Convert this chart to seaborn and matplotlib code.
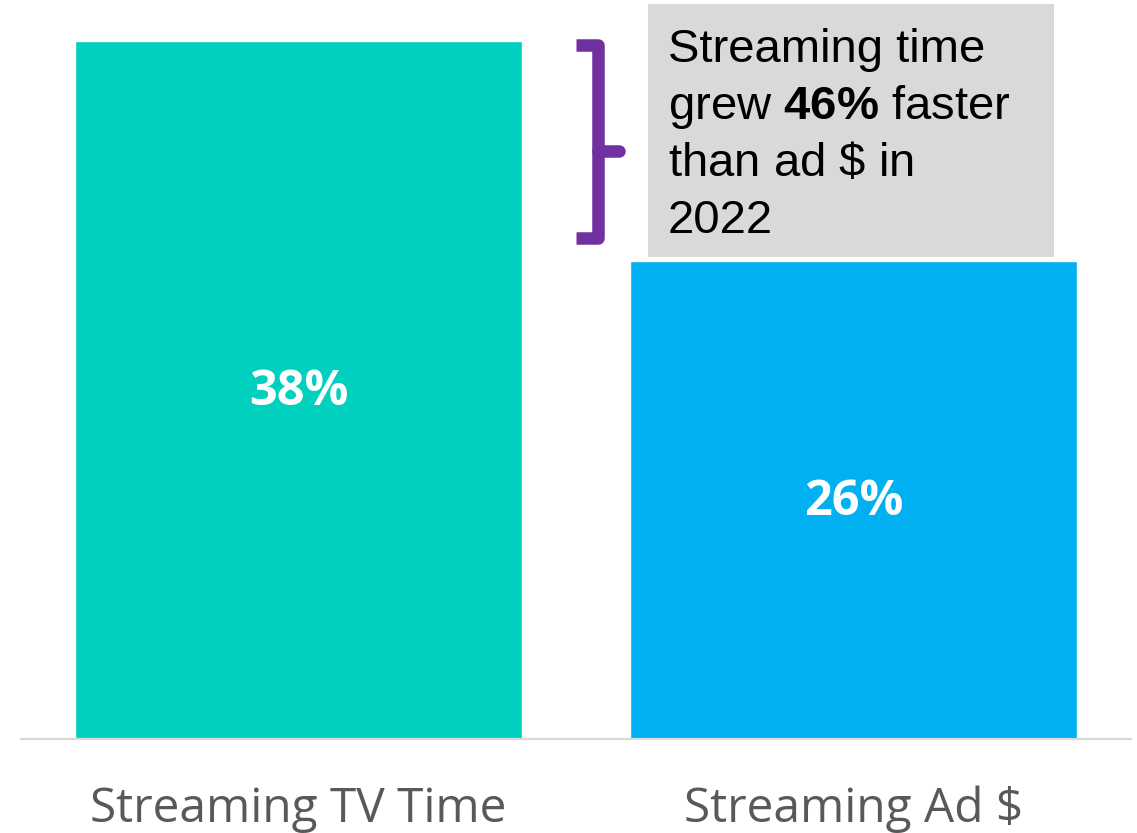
import matplotlib
matplotlib.use("Agg")
import matplotlib.pyplot as plt
import seaborn as sns
import pandas as pd
from matplotlib.lines import Line2D
from matplotlib.patches import Rectangle

# Growth in 2022
categories = ["Streaming TV Time", "Streaming Ad $"]
growth_pct = [38, 26]
bar_colors = ["#00D1BF", "#00B0F0"]
callout_lines = ["Streaming time", r"grew $\mathbf{46\%}$ faster", "than ad $\\$$ in", "2022"]

sns.set_theme(style="white")
plt.rcParams["font.family"] = ["Open Sans", "DejaVu Sans"]
plt.rcParams["mathtext.fontset"] = "custom"
plt.rcParams["mathtext.rm"] = "Liberation Sans"
plt.rcParams["mathtext.bf"] = "Liberation Sans:bold"

W, H, DPI = 1137, 833, 100
fig = plt.figure(figsize=(W / DPI, H / DPI), dpi=DPI)
ax = fig.add_axes([21 / W, (H - 738.5) / H, 1110 / W, 734 / H])

df = pd.DataFrame({"category": categories, "growth": growth_pct})
sns.barplot(data=df, x="category", y="growth", hue="category",
            palette=bar_colors, width=0.805, saturation=1, legend=False, ax=ax)

ax.set_xlim(-0.5, 1.5)
ax.set_ylim(0, 40)
ax.set_xlabel("")
ax.set_ylabel("")
ax.set_yticks([])
for side in ["left", "right", "top"]:
    ax.spines[side].set_visible(False)
ax.spines["bottom"].set_color("#D9D9D9")
ax.spines["bottom"].set_linewidth(1.6)
ax.tick_params(axis="x", length=0, pad=34, labelsize=34.4, labelcolor="#595959")

for cont in ax.containers:
    ax.bar_label(cont, labels=[f"{v:.0f}%" for v in cont.datavalues],
                 label_type="center", color="white", fontsize=35,
                 fontweight="bold", family="Open Sans", padding=-2)

# Callout box above the ad-dollars bar
hi, lo = growth_pct
ax.add_patch(Rectangle((0.63, lo + 0.25), 0.731, 40 - lo - 0.25,
                       facecolor="#D9D9D9", edgecolor="none", zorder=3,
                       clip_on=False))
for i, line in enumerate(callout_lines):
    fig.text(668 / W, 1 - (62 + 57 * i) / H, line, fontsize=34,
             family="Liberation Sans", color="black", va="baseline",
             ha="left", zorder=5)

# Bracket spanning the gap between the two growth rates
top_y, bot_y = hi - 0.2, lo + 1.3
mid_y = (hi + lo) / 2
purple = "#7030A0"
ax.add_line(Line2D([0.5, 0.5396, 0.5396, 0.5], [top_y, top_y, bot_y, bot_y],
                   color=purple, lw=9, solid_joinstyle="round",
                   solid_capstyle="butt", clip_on=False, zorder=4))
ax.add_line(Line2D([0.5396, 0.5775], [mid_y, mid_y], color=purple, lw=9,
                   solid_capstyle="round", clip_on=False, zorder=4))

fig.savefig("out.png", dpi=DPI)
